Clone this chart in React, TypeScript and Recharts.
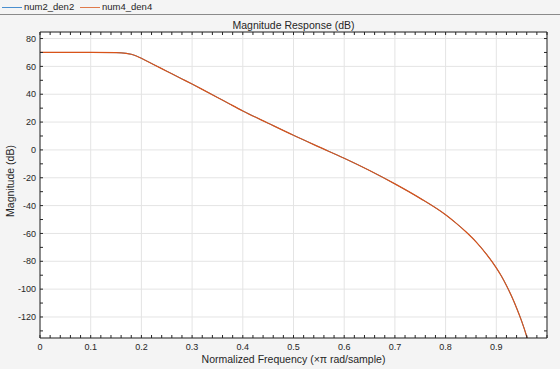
import { CartesianGrid, Line, LineChart, XAxis, YAxis } from "recharts"

const freqs = [
  0, 0.05, 0.1, 0.15, 0.17, 0.18, 0.19, 0.2, 0.22, 0.24, 0.26, 0.28, 0.3, 0.32, 0.35, 0.375, 0.4, 0.45, 0.5,
  0.55, 0.6, 0.65, 0.7, 0.75, 0.8, 0.82, 0.84, 0.86, 0.88, 0.9, 0.91, 0.92, 0.93, 0.94, 0.95, 0.96, 0.97,
]
const num2Den2 = [
  70, 70, 70, 69.9, 69.4, 68.7, 67.5, 65.8, 62.1, 58.4, 54.7, 51, 47.3, 43.5, 37.7, 32.8, 28, 19.2, 10.5,
  2.2, -6, -14.8, -24.4, -34.8, -46.6, -52.4, -58.8, -66, -74.6, -84.7, -90.6, -97.4, -105, -113.5, -123, -134, -147,
]
const num4Den4 = [
  70, 70, 70, 69.9, 69.4, 68.7, 67.5, 65.8, 62.1, 58.4, 54.7, 51, 47.3, 43.5, 37.7, 32.8, 28, 19.2, 10.5,
  2.2, -6, -14.8, -24.4, -34.8, -46.6, -52.4, -58.8, -66, -74.6, -84.7, -90.6, -97.4, -105, -113.5, -123, -134, -147,
]

const xTicks = [
  0, 0.02, 0.04, 0.06, 0.08, 0.1, 0.12, 0.14, 0.16, 0.18, 0.2, 0.22, 0.24, 0.26, 0.28, 0.3, 0.32, 0.34, 0.36, 0.38,
  0.4, 0.42, 0.44, 0.46, 0.48, 0.5, 0.52, 0.54, 0.56, 0.58, 0.6, 0.62, 0.64, 0.66, 0.68, 0.7, 0.72, 0.74, 0.76,
  0.78, 0.8, 0.82, 0.84, 0.86, 0.88, 0.9, 0.92, 0.94, 0.96, 0.98, 1,
]
const xLabels = [0, 0.1, 0.2, 0.3, 0.4, 0.5, 0.6, 0.7, 0.8, 0.9]
const yTicks = [-130, -120, -110, -100, -90, -80, -70, -60, -50, -40, -30, -20, -10, 0, 10, 20, 30, 40, 50, 60, 70, 80]
const yLabels = [-120, -100, -80, -60, -40, -20, 0, 20, 40, 60, 80]

const data = freqs.map((f, i) => ({ f, a: num2Den2[i], b: num4Den4[i] }))

const FONT = "'Liberation Sans', Arial, Helvetica, sans-serif"
const INK = "#262626"
const BLUE = "#0072BD"
const ORANGE = "#D95319"
const Y_DOMAIN = [-135.1, 84.7]

const hasLabel = (list: number[], v: number) => list.some((l) => Math.abs(l - v) < 1e-6)

function makeXTick(side: "top" | "bottom") {
  return (props: any) => {
    const { x, y, payload } = props
    const dir = side === "top" ? 1 : -1
    return (
      <g>
        <line x1={x} x2={x} y1={y} y2={y + dir * 3} stroke={INK} strokeWidth={1} />
        {side === "bottom" && hasLabel(xLabels, payload.value) && (
          <text x={x} y={y + 11.5} textAnchor="middle" fontSize={9} fontFamily={FONT} fill={INK}>
            {payload.value}
          </text>
        )}
      </g>
    )
  }
}

function makeYTick(side: "left" | "right") {
  return (props: any) => {
    const { x, y, payload } = props
    const dir = side === "left" ? 1 : -1
    return (
      <g>
        <line x1={x} x2={x + dir * 3} y1={y} y2={y} stroke={INK} strokeWidth={1} />
        {side === "left" && hasLabel(yLabels, payload.value) && (
          <text x={x - 4} y={y + 3.2} textAnchor="end" fontSize={9} fontFamily={FONT} fill={INK}>
            {payload.value}
          </text>
        )}
      </g>
    )
  }
}

export default function App() {
  return (
    <div style={{ position: "fixed", left: 0, top: 0, width: 560, height: 369, background: "#f4f4f4" }}>
      <div
        style={{
          position: "absolute",
          left: 0,
          top: 0,
          width: 560,
          height: 14,
          borderBottom: "1px solid #8a8a8a",
          fontFamily: FONT,
          fontSize: 9.5,
          color: INK,
        }}
      >
        <div style={{ position: "absolute", left: 2, top: 7, width: 20, height: 1, background: "#4a8fcf" }} />
        <span style={{ position: "absolute", left: 24, top: 1 }}>num2_den2</span>
        <div style={{ position: "absolute", left: 80, top: 7, width: 20, height: 1, background: "#e07a4a" }} />
        <span style={{ position: "absolute", left: 102, top: 1 }}>num4_den4</span>
      </div>
      <LineChart width={560} height={369} data={data} margin={{ top: 0, right: 0, bottom: 0, left: 0 }}>
        <CartesianGrid fill="#ffffff" stroke="#e4e4e4" xAxisId="grid" yAxisId="grid" />
        <XAxis xAxisId="grid" dataKey="f" type="number" domain={[0, 1]} ticks={xLabels} interval={0} hide />
        <YAxis yAxisId="grid" type="number" domain={Y_DOMAIN} allowDataOverflow ticks={yLabels} interval={0} hide />
        <XAxis
          dataKey="f"
          type="number"
          domain={[0, 1]}
          ticks={xTicks}
          interval={0}
          height={31}
          tickSize={0}
          tickMargin={0}
          tickLine={false}
          stroke={INK}
          tick={makeXTick("bottom")}
          label={{
            content: ({ viewBox }: any) => (
              <text
                x={viewBox.x + viewBox.width / 2}
                y={viewBox.y + 25}
                textAnchor="middle"
                fontSize={10.5}
                fontFamily={FONT}
                fill={INK}
              >
                Normalized Frequency (×π rad/sample)
              </text>
            ),
          }}
        />
        <XAxis
          xAxisId="top"
          orientation="top"
          dataKey="f"
          type="number"
          domain={[0, 1]}
          ticks={xTicks}
          interval={0}
          height={32}
          tickSize={0}
          tickMargin={0}
          tickLine={false}
          stroke={INK}
          tick={makeXTick("top")}
          label={{
            content: ({ viewBox }: any) => (
              <text
                x={viewBox.x + viewBox.width / 2}
                y={viewBox.y + 29}
                textAnchor="middle"
                fontSize={10.5}
                fontFamily={FONT}
                fill={INK}
              >
                Magnitude Response (dB)
              </text>
            ),
          }}
        />
        <YAxis
          type="number"
          domain={Y_DOMAIN}
          allowDataOverflow
          ticks={yTicks}
          interval={0}
          width={40}
          tickSize={0}
          tickMargin={0}
          tickLine={false}
          stroke={INK}
          tick={makeYTick("left")}
          label={{
            content: ({ viewBox }: any) => {
              const cx = 14
              const cy = viewBox.y + viewBox.height / 2 - 4
              return (
                <text
                  x={cx}
                  y={cy}
                  transform={`rotate(-90, ${cx}, ${cy})`}
                  textAnchor="middle"
                  fontSize={10.5}
                  fontFamily={FONT}
                  fill={INK}
                >
                  Magnitude (dB)
                </text>
              )
            },
          }}
        />
        <YAxis
          yAxisId="right"
          orientation="right"
          type="number"
          domain={Y_DOMAIN}
          allowDataOverflow
          ticks={yTicks}
          interval={0}
          width={13}
          tickSize={0}
          tickMargin={0}
          tickLine={false}
          stroke={INK}
          tick={makeYTick("right")}
        />
        <Line type="monotone" dataKey="a" name="num2_den2" stroke={BLUE} strokeWidth={0.8} dot={false} isAnimationActive={false} />
        <Line type="monotone" dataKey="b" name="num4_den4" stroke={ORANGE} strokeWidth={1.2} dot={false} isAnimationActive={false} />
      </LineChart>
    </div>
  )
}
